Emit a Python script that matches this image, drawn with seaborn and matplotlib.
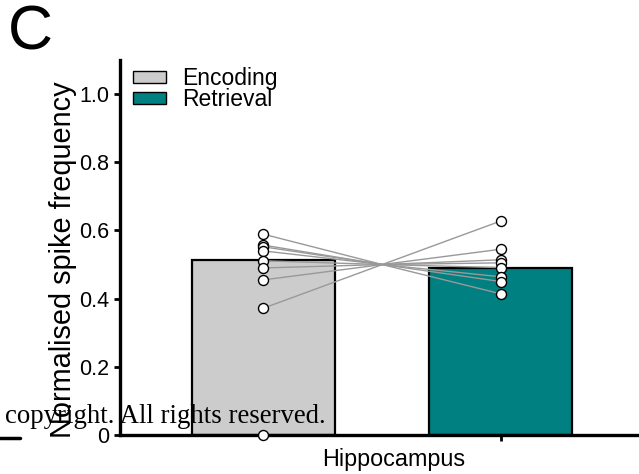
import matplotlib
matplotlib.use("Agg")
import matplotlib.pyplot as plt
import seaborn as sns
import pandas as pd
from matplotlib.patches import Patch
from matplotlib.lines import Line2D

# ---- data ----
categories = ["Encoding", "Retrieval"]
bar_means = [0.513, 0.490]
enc_points = [0.589, 0.557, 0.552, 0.540, 0.511, 0.490, 0.455, 0.372]
ret_points = [0.628, 0.545, 0.514, 0.505, 0.491, 0.464, 0.450, 0.414]
enc_unpaired = [0.0]
crossing_value = 0.50
yticks = [0, 0.2, 0.4, 0.6, 0.8, 1.0]
ytick_labels = ["0", "0.2", "0.4", "0.6", "0.8", "1.0"]
region_label = "Hippocampus"
colors = ["#cccccc", "#008080"]

sns.set_style("white")
plt.rcParams["font.family"] = ["Liberation Sans", "DejaVu Sans"]
plt.rcParams["text.color"] = "black"
plt.rcParams["axes.labelcolor"] = "black"
plt.rcParams["xtick.color"] = "black"
plt.rcParams["ytick.color"] = "black"

W, H = 639, 474
fig = plt.figure(figsize=(W / 100, H / 100), dpi=100)
ax_l, ax_r, ax_b, ax_t = 120, 639, 435, 60
ax = fig.add_axes([ax_l / W, 1 - ax_b / H, (ax_r - ax_l) / W, (ax_b - ax_t) / H])

df = pd.DataFrame({"phase": categories, "value": bar_means})
sns.barplot(data=df, x="phase", y="value", hue="phase", order=categories,
            hue_order=categories, palette=colors, saturation=1, width=0.602,
            edgecolor="black", linewidth=1.6, legend=False, ax=ax, zorder=1)

# paired lines through the crossing point
for e, r in zip(enc_points, ret_points):
    ax.plot([0, 0.5, 1], [e, crossing_value, r], color="#999999", lw=1.0, zorder=2)

mk = dict(marker="o", ms=7.2, mfc="white", mec="black", mew=1.0, ls="none", zorder=4, clip_on=False)
ax.plot([0] * len(enc_points), enc_points, **mk)
ax.plot([0] * len(enc_unpaired), enc_unpaired, **mk)
ax.plot([1] * len(ret_points), ret_points, **mk)

ax.set_xlim(-0.604, 1.581)
ax.set_ylim(0, 1.1)
ax.set_yticks(yticks)
ax.set_yticklabels(ytick_labels)
ax.set_xticks([1])
ax.set_xticklabels([""])
ax.tick_params(axis="y", direction="out", length=4, width=2, labelsize=15.5, pad=4, left=True)
ax.tick_params(axis="x", direction="out", length=4, width=2, bottom=True)

for s in ["top", "right"]:
    ax.spines[s].set_visible(False)
for s in ["left", "bottom"]:
    ax.spines[s].set_linewidth(2.4)
    ax.spines[s].set_color("black")

ax.set_xlabel(region_label, fontsize=16.8, va="top")
ax.xaxis.set_label_coords((394 - ax_l) / (ax_r - ax_l), -0.035)
ax.set_ylabel("Normalised spike frequency", fontsize=20.8)
ax.yaxis.set_label_coords((77 - ax_l) / (ax_r - ax_l), (ax_b - 260) / (ax_b - ax_t))

handles = [Patch(facecolor=c, edgecolor="black", linewidth=1.0) for c in colors]
fig.legend(handles, categories, loc="upper left", bbox_to_anchor=(133 / W, 1 - 67 / H),
           bbox_transform=fig.transFigure, frameon=False, fontsize=16.5,
           handlelength=1.43, handleheight=0.43, handletextpad=0.7,
           labelspacing=-0.08, borderpad=0, borderaxespad=0)

fig.text(8 / W, 1 - 50 / H, "C", fontsize=45, ha="left", va="baseline")
fig.text(5 / W, 1 - 423 / H, "copyright. All rights reserved.", fontsize=19.3,
         family="Liberation Serif", ha="left", va="baseline", zorder=10)
fig.add_artist(Line2D([0, 20 / W], [1 - 438 / H, 1 - 438 / H], color="black", lw=2.5,
                      transform=fig.transFigure))

fig.savefig("out.png", dpi=100)
